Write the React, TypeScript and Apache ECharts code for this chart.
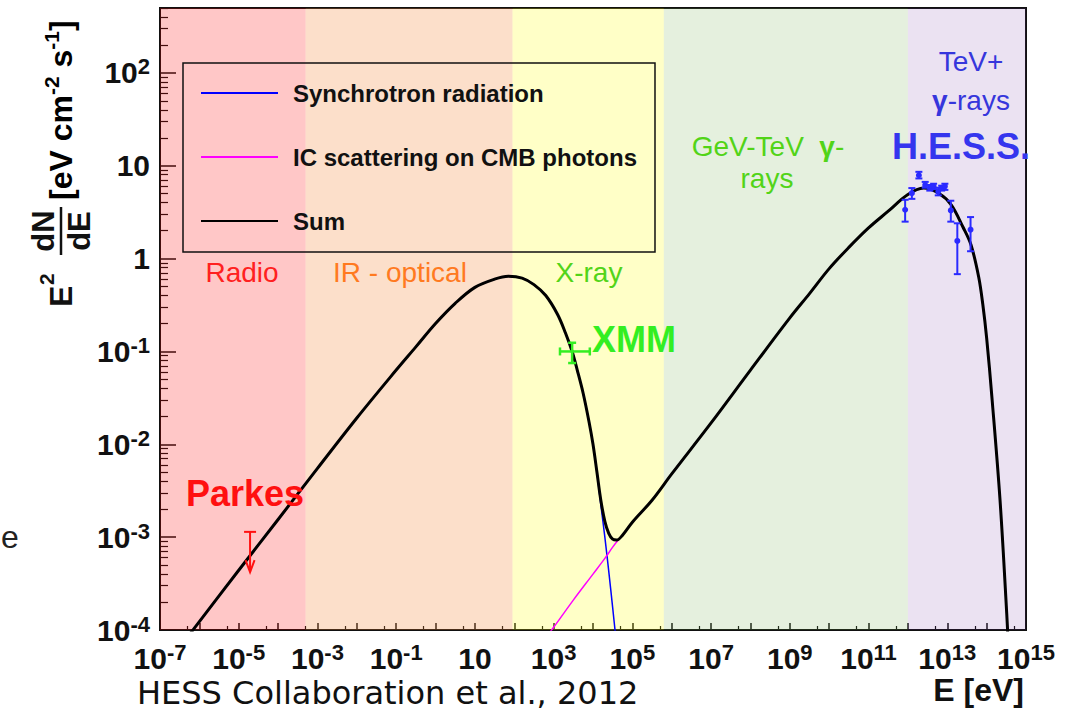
import React, { useEffect, useRef } from 'react';
import * as echarts from 'echarts';

// ---------------- data ----------------
const xRange = [1e-7, 1e15];
const yRange = [1e-4, 500];
const xLabelExponents = [-7, -5, -3, -1, 1, 3, 5, 7, 9, 11, 13, 15];
const yLabelExponents = [-4, -3, -2, -1, 0, 1, 2];

const bandEdges = [1e-7, 5e-4, 90, 6.3e5, 1e12, 1e15];
const bandColors = [
  'rgba(255,0,0,0.22)',
  'rgba(245,130,50,0.26)',
  'rgba(255,255,0,0.22)',
  'rgba(112,173,71,0.18)',
  'rgba(112,48,160,0.14)',
];

const legendNames = ['Synchrotron radiation', 'IC scattering on CMB photons', 'Sum'];

// E [eV], E^2 dN/dE [eV cm^-2 s^-1]
const synchrotron: [number, number][] = [
  [4.0e-7, 7.4e-5], [1e-6, 1.23e-4], [1e-5, 4.4e-4], [1e-4, 1.55e-3], [1e-3, 5.5e-3],
  [1e-2, 1.92e-2], [0.1, 6.3e-2], [0.316, 0.112], [1, 0.2], [3.16, 0.33], [10, 0.49],
  [31.6, 0.6], [70.8, 0.645], [158, 0.617], [316, 0.525], [631, 0.4], [1260, 0.25],
  [2000, 0.158], [2950, 0.1], [3980, 0.063], [5620, 0.0355], [7940, 0.0174], [1.0e4, 0.01],
  [1.26e4, 5.0e-3], [1.58e4, 2.24e-3], [2.0e4, 1.0e-3], [2.51e4, 4.3e-4], [3.16e4, 1.74e-4],
  [3.98e4, 6.8e-5],
];

const icScattering: [number, number][] = [
  [631, 8.3e-5], [1e3, 1.07e-4], [3.16e3, 2.1e-4], [1e4, 4.0e-4], [2.0e4, 5.9e-4],
  [3.16e4, 7.8e-4], [4.37e4, 9.3e-4], [5.62e4, 1.05e-3], [1e5, 1.45e-3], [3.16e5, 2.5e-3],
  [1e6, 4.8e-3], [1e7, 0.017], [1e8, 0.063], [1e9, 0.23], [3.16e9, 0.42], [1e10, 0.78],
  [3.16e10, 1.32], [1e11, 2.14], [3.16e11, 3.24], [1e12, 4.9], [2.5e12, 5.75], [6.3e12, 5.0],
  [1.26e13, 3.8], [2.5e13, 2.19], [4e13, 1.41], [6.3e13, 0.63], [8e13, 0.32], [1e14, 0.14],
  [1.38e14, 0.03], [2.19e14, 2.5e-3], [3.24e14, 1.5e-4], [3.6e14, 6e-5],
];

const sumCurve: [number, number][] = [
  [4.0e-7, 7.4e-5], [1e-6, 1.23e-4], [1e-5, 4.4e-4], [1e-4, 1.55e-3], [1e-3, 5.5e-3],
  [1e-2, 1.92e-2], [0.1, 6.3e-2], [0.316, 0.112], [1, 0.2], [3.16, 0.33], [10, 0.49],
  [31.6, 0.6], [70.8, 0.645], [158, 0.617], [316, 0.525], [631, 0.4], [1260, 0.25],
  [2000, 0.158], [2950, 0.1], [3980, 0.063], [5620, 0.0355], [7940, 0.0174], [1.0e4, 0.01],
  [1.26e4, 5.0e-3], [1.58e4, 2.5e-3], [2.0e4, 1.48e-3], [2.51e4, 1.1e-3], [3.16e4, 9.5e-4],
  [3.98e4, 9.3e-4], [5.62e4, 1.05e-3], [1e5, 1.45e-3], [3.16e5, 2.5e-3], [1e6, 4.8e-3],
  [1e7, 0.017], [1e8, 0.063], [1e9, 0.23], [3.16e9, 0.42], [1e10, 0.78], [3.16e10, 1.32],
  [1e11, 2.14], [3.16e11, 3.24], [1e12, 4.9], [2.5e12, 5.75], [6.3e12, 5.0], [1.26e13, 3.8],
  [2.5e13, 2.19], [4e13, 1.41], [6.3e13, 0.63], [8e13, 0.32], [1e14, 0.14], [1.38e14, 0.03],
  [2.19e14, 2.5e-3], [3.24e14, 1.5e-4], [3.6e14, 6e-5],
];

const hessE = [8.5e11, 1.26e12, 1.9e12, 2.75e12, 3.6e12, 4.5e12, 5.9e12, 7.2e12, 8.7e12, 1.23e13, 1.8e13, 3.9e13];
const hessF = [3.36, 5.07, 7.9, 6.2, 5.75, 6.0, 5.25, 5.75, 6.0, 3.3, 1.55, 2.05];
const hessLo = [2.5, 4.4, 7.3, 5.8, 5.4, 5.6, 4.8, 5.4, 5.5, 2.5, 0.68, 1.2];
const hessHi = [4.3, 5.75, 8.6, 6.7, 6.2, 6.4, 5.8, 6.1, 6.4, 4.2, 2.4, 2.8];

const xmmE = [2950];
const xmmF = [0.1];
const xmmELo = [1450];
const xmmEHi = [8300];
const xmmFLo = [0.075];
const xmmFHi = [0.124];

const parkesE = [1.94e-5];
const parkesUpper = [1.14e-3];
const parkesArrowTip = [4.2e-4];

// ---------------- helpers ----------------
const lg = Math.log10;
const toLog = (arr: [number, number][]) => arr.map(([e, f]) => [lg(e), lg(f)]);

const yMinorTicks: number[] = [];
for (let k = -4; k <= 2; k++) {
  for (let m = 2; m <= 9; m++) {
    const v = lg(m) + k;
    if (v <= lg(yRange[1])) yMinorTicks.push(v);
  }
}
const xMinorTicks: number[] = [];
for (let k = -7; k < 15; k++) xMinorTicks.push(lg(5) + k);

const TICK_FONT = "'Liberation Sans Narrow', 'Liberation Sans', Arial, sans-serif";
const tickRich = {
  b: { fontSize: 30, fontWeight: 'bold', fontFamily: TICK_FONT, color: '#111', lineHeight: 34 },
  s: { fontSize: 22, fontWeight: 'bold', fontFamily: TICK_FONT, color: '#111', lineHeight: 18, verticalAlign: 'top' },
};
const expLabel = (v: number, onlyOdd: boolean) => {
  const e = Math.round(v);
  if (Math.abs(v - e) > 1e-6) return '';
  if (onlyOdd && e % 2 === 0) return '';
  if (e === 0) return '{b|1}';
  if (e === 1) return '{b|10}';
  return `{b|10}{s|${e}}`;
};

const HESS_COLOR = '#2a2aff';
const XMM_COLOR = '#33ee22';
const PARKES_COLOR = '#ff1010';

export default function App() {
  const ref = useRef<HTMLDivElement>(null);

  useEffect(() => {
    if (!ref.current) return;
    const chart = echarts.init(ref.current, undefined, { renderer: 'svg' });

    const SANS = "'Liberation Sans', Arial, sans-serif";
    const txt = (x: number, y: number, text: string, style: any) => ({
      type: 'text',
      x,
      y,
      z: 100,
      silent: true,
      style: {
        text,
        align: 'center',
        verticalAlign: 'middle',
        fontFamily: SANS,
        fontSize: 28,
        ...style,
      },
    });

    const titleRich = {
      m: { fontSize: 32, fontWeight: 'bold', fontFamily: SANS, color: '#111', lineHeight: 40 },
      s: { fontSize: 21, fontWeight: 'bold', fontFamily: SANS, color: '#111', lineHeight: 22, verticalAlign: 'top' },
    };

    const lineCommon = { type: 'line', symbol: 'none', showSymbol: false, smooth: 0.35 };

    const option: any = {
      animation: false,
      backgroundColor: '#ffffff',
      grid: {
        left: 160,
        right: 50,
        top: 8,
        bottom: 81,
        show: true,
        borderColor: '#111',
        borderWidth: 2,
        backgroundColor: 'transparent',
      },
      legend: {
        data: legendNames,
        orient: 'vertical',
        left: 183,
        top: 63,
        z: 3,
        padding: [18, 18, 19, 17],
        itemGap: 40,
        itemWidth: 77,
        itemHeight: 24,
        selectedMode: false,
        itemStyle: { opacity: 0 },
        borderColor: '#111',
        borderWidth: 1.5,
        backgroundColor: 'transparent',
        textStyle: {
          fontSize: 24,
          fontWeight: 'bold',
          fontFamily: SANS,
          color: '#111',
          lineHeight: 24,
          padding: [0, 0, 0, 10],
        },
      },
      xAxis: [
        {
          type: 'value',
          min: lg(xRange[0]),
          max: lg(xRange[1]),
          interval: 1,
          axisLine: { show: true, onZero: false, lineStyle: { color: '#111', width: 2 } },
          axisTick: { show: true, inside: true, length: 7, lineStyle: { color: '#111', width: 1.5 } },
          axisLabel: {
            margin: 11,
            customValues: xLabelExponents,
            formatter: (v: number) => expLabel(v, true),
            rich: tickRich,
          },
          splitLine: { show: false },
        },
        {
          type: 'value',
          min: lg(xRange[0]),
          max: lg(xRange[1]),
          position: 'bottom',
          axisLine: { show: false, onZero: false },
          axisTick: { show: true, inside: true, length: 4, customValues: xMinorTicks, lineStyle: { color: '#111', width: 1.2 } },
          axisLabel: { show: false },
          splitLine: { show: false },
        },
      ],
      yAxis: [
        {
          type: 'value',
          min: lg(yRange[0]),
          max: lg(yRange[1]),
          interval: 1,
          axisLine: { show: true, onZero: false, lineStyle: { color: '#111', width: 2 } },
          axisTick: { show: true, inside: true, length: 16, customValues: yLabelExponents, lineStyle: { color: '#111', width: 1.5 } },
          axisLabel: {
            margin: 10,
            customValues: yLabelExponents,
            formatter: (v: number) => expLabel(v, false),
            rich: tickRich,
          },
          splitLine: { show: false },
        },
        {
          type: 'value',
          min: lg(yRange[0]),
          max: lg(yRange[1]),
          position: 'left',
          axisLine: { show: false, onZero: false },
          axisTick: { show: true, inside: true, length: 8, customValues: yMinorTicks, lineStyle: { color: '#111', width: 1.2 } },
          axisLabel: { show: false },
          splitLine: { show: false },
        },
      ],
      series: [
        {
          ...lineCommon,
          name: legendNames[0],
          data: toLog(synchrotron),
          color: '#0000ff',
          lineStyle: { color: '#0000ff', width: 1.5 },
          z: 2,
        },
        {
          ...lineCommon,
          name: legendNames[1],
          data: toLog(icScattering),
          color: '#ff00ff',
          lineStyle: { color: '#ff00ff', width: 1.5 },
          z: 2,
        },
        {
          ...lineCommon,
          name: legendNames[2],
          data: toLog(sumCurve),
          color: '#000000',
          lineStyle: { color: '#000000', width: 3 },
          z: 3,
        },
        {
          type: 'custom',
          z: 4,
          data: hessE.map((e, i) => [lg(e), lg(hessF[i]), lg(hessLo[i]), lg(hessHi[i])]),
          renderItem: (_p: any, api: any) => {
            const x = api.value(0);
            const c = api.coord([x, api.value(1)]);
            const lo = api.coord([x, api.value(2)]);
            const hi = api.coord([x, api.value(3)]);
            const st = { stroke: HESS_COLOR, lineWidth: 2 };
            return {
              type: 'group',
              children: [
                { type: 'line', shape: { x1: c[0], y1: lo[1], x2: c[0], y2: hi[1] }, style: st },
                { type: 'line', shape: { x1: c[0] - 3.5, y1: lo[1], x2: c[0] + 3.5, y2: lo[1] }, style: st },
                { type: 'line', shape: { x1: c[0] - 3.5, y1: hi[1], x2: c[0] + 3.5, y2: hi[1] }, style: st },
                { type: 'circle', shape: { cx: c[0], cy: c[1], r: 3 }, style: { fill: HESS_COLOR } },
              ],
            };
          },
        },
        {
          type: 'custom',
          z: 4,
          data: xmmE.map((e, i) => [lg(e), lg(xmmF[i]), lg(xmmELo[i]), lg(xmmEHi[i]), lg(xmmFLo[i]), lg(xmmFHi[i])]),
          renderItem: (_p: any, api: any) => {
            const x = api.value(0);
            const y = api.value(1);
            const c = api.coord([x, y]);
            const l = api.coord([api.value(2), y]);
            const r = api.coord([api.value(3), y]);
            const b = api.coord([x, api.value(4)]);
            const t = api.coord([x, api.value(5)]);
            const st = { stroke: XMM_COLOR, lineWidth: 2.5 };
            const k = 4;
            return {
              type: 'group',
              children: [
                { type: 'line', shape: { x1: l[0], y1: c[1], x2: r[0], y2: c[1] }, style: st },
                { type: 'line', shape: { x1: c[0], y1: b[1], x2: c[0], y2: t[1] }, style: st },
                { type: 'line', shape: { x1: l[0], y1: c[1] - k, x2: l[0], y2: c[1] + k }, style: st },
                { type: 'line', shape: { x1: r[0], y1: c[1] - k, x2: r[0], y2: c[1] + k }, style: st },
                { type: 'line', shape: { x1: c[0] - k, y1: b[1], x2: c[0] + k, y2: b[1] }, style: st },
                { type: 'line', shape: { x1: c[0] - k, y1: t[1], x2: c[0] + k, y2: t[1] }, style: st },
              ],
            };
          },
        },
        {
          type: 'custom',
          z: 4,
          data: parkesE.map((e, i) => [lg(e), lg(parkesUpper[i]), lg(parkesArrowTip[i])]),
          renderItem: (_p: any, api: any) => {
            const x = api.value(0);
            const top = api.coord([x, api.value(1)]);
            const tip = api.coord([x, api.value(2)]);
            const st = { stroke: PARKES_COLOR, lineWidth: 2, fill: 'none' };
            return {
              type: 'group',
              children: [
                { type: 'line', shape: { x1: top[0] - 6, y1: top[1], x2: top[0] + 6, y2: top[1] }, style: st },
                { type: 'line', shape: { x1: top[0], y1: top[1], x2: tip[0], y2: tip[1] }, style: st },
                {
                  type: 'polyline',
                  shape: { points: [[tip[0] - 4.5, tip[1] - 12], [tip[0], tip[1]], [tip[0] + 4.5, tip[1] - 12]] },
                  style: st,
                },
              ],
            };
          },
        },
        {
          type: 'line',
          data: [],
          z: 10,
          silent: true,
          markArea: {
            silent: true,
            label: { show: false },
            data: bandEdges.slice(0, -1).map((e, i) => [
              { xAxis: lg(e), itemStyle: { color: bandColors[i], borderWidth: 0 } },
              { xAxis: lg(bandEdges[i + 1]) },
            ]),
          },
        },
      ],
      graphic: [
        // y-axis title, rotated
        {
          type: 'group',
          x: 72,
          y: 307,
          rotation: Math.PI / 2,
          z: 100,
          silent: true,
          children: [
            { type: 'text', x: 0, y: -11, style: { text: 'E', fontSize: 32, fontWeight: 'bold', fontFamily: SANS, fill: '#111', align: 'left', verticalAlign: 'middle' } },
            { type: 'text', x: 22, y: -26, style: { text: '2', fontSize: 21, fontWeight: 'bold', fontFamily: SANS, fill: '#111', align: 'left', verticalAlign: 'middle' } },
            { type: 'text', x: 76, y: -29, style: { text: 'dN', fontSize: 31, fontWeight: 'bold', fontFamily: SANS, fill: '#111', align: 'center', verticalAlign: 'middle' } },
            { type: 'line', shape: { x1: 52, y1: -11, x2: 100, y2: -11 }, style: { stroke: '#111', lineWidth: 2.5 } },
            { type: 'text', x: 76, y: 7, style: { text: 'dE', fontSize: 31, fontWeight: 'bold', fontFamily: SANS, fill: '#111', align: 'center', verticalAlign: 'middle' } },
            {
              type: 'text',
              x: 107,
              y: -11,
              style: { text: '{m|[eV cm}{s|-2}{m| s}{s|-1}{m|]}', rich: titleRich, align: 'left', verticalAlign: 'middle' },
            },
          ],
        },
        txt(1024, 690, 'E [eV]', { fontSize: 32, fontWeight: 'bold', fill: '#111', align: 'right' }),
        txt(137, 693, 'HESS Collaboration et al., 2012', { fontSize: 32, fontFamily: "'DejaVu Sans', sans-serif", fill: '#111', align: 'left' }),
        txt(10, 537, 'e', { fontSize: 32, fill: '#222' }),
        // band labels
        txt(242, 272, 'Radio', { fill: '#ff2020' }),
        txt(400, 272, 'IR - optical', { fill: '#ff7a1f' }),
        txt(589, 272, 'X-ray', { fill: '#52d418' }),
        txt(768, 146, '{r|GeV-TeV  }{g|γ}{r|-}', {
          fill: '#52d418',
          rich: {
            r: { fontSize: 28, fontFamily: SANS, color: '#52d418' },
            g: { fontSize: 28, fontFamily: SANS, fontWeight: 'bold', color: '#52d418' },
          },
        }),
        txt(767, 178, 'rays', { fill: '#52d418' }),
        txt(971, 61, 'TeV+', { fill: '#3636dc' }),
        txt(971, 100, '{g|γ}{r|-rays}', {
          fill: '#3636dc',
          rich: {
            r: { fontSize: 28, fontFamily: SANS, color: '#3636dc' },
            g: { fontSize: 28, fontFamily: SANS, fontWeight: 'bold', color: '#3636dc' },
          },
        }),
        // data annotations
        txt(961, 146, 'H.E.S.S.', { fontSize: 36, fontWeight: 'bold', fill: '#3535ee' }),
        txt(634, 339, 'XMM', { fontSize: 36, fontWeight: 'bold', fill: XMM_COLOR }),
        txt(245, 493, 'Parkes', { fontSize: 36, fontWeight: 'bold', fill: PARKES_COLOR }),
      ],
    };

    chart.setOption(option);
    return () => chart.dispose();
  }, []);

  return (
    <div
      ref={ref}
      style={{ position: 'absolute', left: 0, top: 0, width: 1076, height: 711, background: '#fff' }}
    />
  );
}
